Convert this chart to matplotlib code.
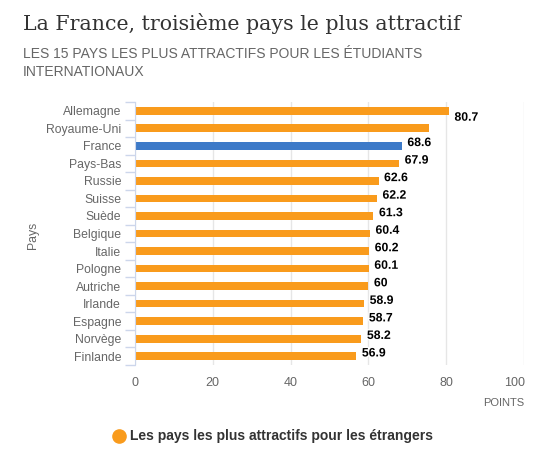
import matplotlib
matplotlib.use('Agg')
import matplotlib.pyplot as plt
import matplotlib.patheffects as pe
import numpy as np

# donnees
pays = ['Allemagne', 'Royaume-Uni', 'France', 'Pays-Bas', 'Russie', 'Suisse', 'Suède',
        'Belgique', 'Italie', 'Pologne', 'Autriche', 'Irlande', 'Espagne', 'Norvège', 'Finlande']
points = [80.7, 75.6, 68.6, 67.9, 62.6, 62.2, 61.3, 60.4, 60.2, 60.1, 60, 58.9, 58.7, 58.2, 56.9]
pays_mis_en_avant = 'France'
x_ticks = [0, 20, 40, 60, 80, 100]

orange = '#f99b1c'
bleu = '#3d7ac8'
gris = '#666666'

plt.rcParams['font.family'] = ['Liberation Sans', 'DejaVu Sans']

fig = plt.figure(figsize=(5.47, 4.62), dpi=100)
ax = fig.add_axes([135/547, 97/462, 389/547, 263/462])

y = np.arange(len(pays))
couleurs = [bleu if p == pays_mis_en_avant else orange for p in pays]
ax.barh(y, points, height=0.44, color=couleurs, zorder=3)

ax.set_ylim(len(pays) - 0.5, -0.5)
ax.set_xlim(0, 100)

# etiquettes des barres (Royaume-Uni cachee sous celle de l'Allemagne)
for i, v in enumerate(points):
    if pays[i] == 'Royaume-Uni':
        continue
    dy = 2 if i > 0 else -5
    ax.annotate('%g' % v, (v, i), xytext=(4, dy), textcoords='offset points',
                ha='left', va='center', fontsize=8.8, fontweight='bold', color='black',
                path_effects=[pe.withStroke(linewidth=2, foreground='white')], zorder=5)

ax.set_yticks(y)
ax.set_yticklabels(pays, fontsize=8.8, color=gris)
ax.tick_params(axis='y', length=0, pad=10)
ax.set_yticks(np.arange(len(pays) + 1) - 0.5, minor=True)
ax.tick_params(axis='y', which='minor', length=7, color='#ccd6eb', width=1)

# le dernier libelle (100) est decale vers la gauche pour rester dans le cadre
ax.set_xticks(x_ticks)
ax.set_xticklabels([str(t) for t in x_ticks[:-1]] + [''], fontsize=9, color=gris)
ax.tick_params(axis='x', length=0, pad=9)
ax.annotate(str(x_ticks[-1]), (x_ticks[-1], 0), xycoords=ax.get_xaxis_transform(),
            xytext=(-7, -13), textcoords='offset points',
            ha='center', va='center', fontsize=9, color=gris)
ax.grid(axis='x', color='#e6e6e6', linewidth=1, zorder=0)

for s in ['top', 'right', 'bottom']:
    ax.spines[s].set_visible(False)
ax.spines['left'].set_color('#ccd6eb')
ax.spines['left'].set_zorder(4)

fig.text(33/547, 1 - 235/462, 'Pays', rotation=90, ha='center', va='center',
         fontsize=8.8, color=gris)
fig.text(524/547, 1 - 403/462, 'POINTS', ha='right', va='center', fontsize=8, color=gris)

# titres
fig.text(23/547, 1 - 24/462, 'La France, troisième pays le plus attractif',
         family='DejaVu Serif', fontsize=14.8, color='#333333', ha='left', va='center')
fig.text(23/547, 1 - 54/462, 'LES 15 PAYS LES PLUS ATTRACTIFS POUR LES ÉTUDIANTS',
         fontsize=10, color=gris, ha='left', va='center')
fig.text(23/547, 1 - 72/462, 'INTERNATIONAUX',
         fontsize=10, color=gris, ha='left', va='center')

# legende
fig.lines.append(plt.Line2D([119/547], [1 - 436/462], marker='o', markersize=9.5,
                            color=orange, transform=fig.transFigure))
fig.text(130/547, 1 - 436/462, 'Les pays les plus attractifs pour les étrangers',
         fontsize=10, fontweight='bold', color='#333333', ha='left', va='center')

fig.savefig('out.png', dpi=100)
